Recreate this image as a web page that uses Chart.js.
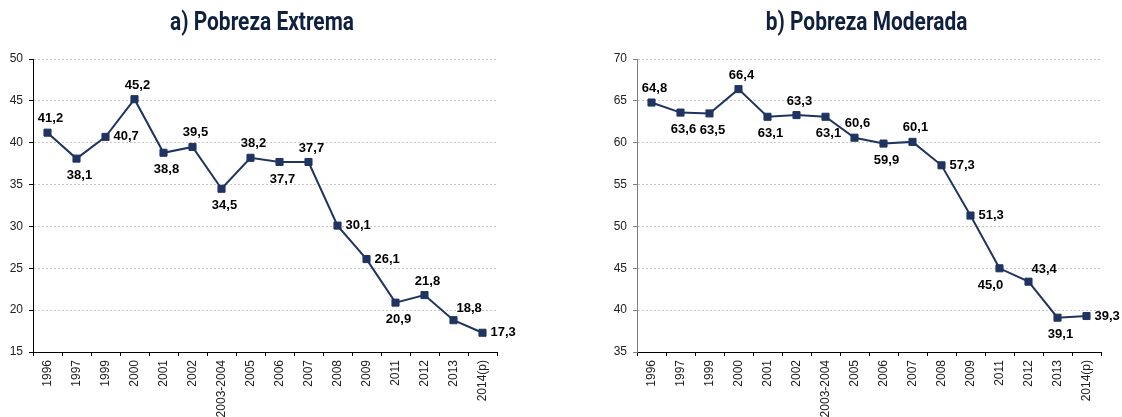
<!DOCTYPE html>
<html>
<head>
<meta charset="utf-8">
<script src="https://cdn.jsdelivr.net/npm/chart.js@4/dist/chart.umd.min.js"></script>
<style>
  html, body { margin: 0; padding: 0; background: #fff; }
  body { width: 1122px; height: 417px; position: relative; overflow: hidden; }
  .wrap { position: absolute; top: 0; width: 561px; height: 417px; }
  #w1 { left: 0; }
  #w2 { left: 561px; }
  .ttl {
    position: absolute; top: 9px; white-space: nowrap;
    font-family: Roboto, 'Liberation Sans', sans-serif; font-weight: bold;
    font-size: 25px; line-height: 25px; color: #10213f;
    transform-origin: 50% 50%;
  }
</style>
</head>
<body>
<div class="wrap" id="w1"><canvas id="c1" width="561" height="417"></canvas></div>
<div class="wrap" id="w2"><canvas id="c2" width="561" height="417"></canvas></div>
<div class="ttl" id="t1"></div>
<div class="ttl" id="t2"></div>
<script>
const categories = ['1996','1997','1999','2000','2001','2002','2003-2004','2005','2006','2007','2008','2009','2011','2012','2013','2014(p)'];
const extrema = [41.2, 38.1, 40.7, 45.2, 38.8, 39.5, 34.5, 38.2, 37.7, 37.7, 30.1, 26.1, 20.9, 21.8, 18.8, 17.3];
const moderada = [64.8, 63.6, 63.5, 66.4, 63.1, 63.3, 63.1, 60.6, 59.9, 60.1, 57.3, 51.3, 45.0, 43.4, 39.1, 39.3];
const titleA = 'a) Pobreza Extrema';
const titleB = 'b) Pobreza Moderada';
const labelPlaceA = ['top','bottom','right','top','bottom','top','bottom','top','bottom','top','right','right','bottom','top','topright','right'];
const labelPlaceB = ['top','bottom','bottom','top','bottom','top','bottom','top','bottom','top','right','right','bottomleft','topright','bottom','right'];

const NAVY = '#1f3461';
const FONT = "'Liberation Sans', Arial, sans-serif";

const pointLabels = {
  id: 'pointLabels',
  afterDatasetsDraw(chart, args, opts) {
    const ctx = chart.ctx;
    const meta = chart.getDatasetMeta(0);
    const data = chart.data.datasets[0].data;
    ctx.save();
    ctx.font = 'bold 13px ' + FONT;
    ctx.fillStyle = '#000';
    ctx.textBaseline = 'middle';
    meta.data.forEach((pt, i) => {
      const txt = data[i].toFixed(1).replace('.', ',');
      const p = opts.place[i];
      let x = pt.x, y = pt.y;
      if (p === 'top') { ctx.textAlign = 'center'; x += 3; y -= 14; }
      else if (p === 'bottom') { ctx.textAlign = 'center'; x += 3; y += 17; }
      else if (p === 'right') { ctx.textAlign = 'left'; x += 8; }
      else if (p === 'topright') { ctx.textAlign = 'left'; x += 3; y -= 12; }
      else if (p === 'bottomleft') { ctx.textAlign = 'center'; x -= 9; y += 17; }
      ctx.fillText(txt, x, y);
    });
    ctx.restore();
  }
};

function makeChart(id, values, place, yMin, yMax, yWidth, padRight, yAxisColor) {
  return new Chart(document.getElementById(id), {
    type: 'line',
    data: {
      labels: categories,
      datasets: [{
        data: values,
        borderColor: NAVY,
        backgroundColor: NAVY,
        borderWidth: 2,
        pointStyle: 'rect',
        pointRadius: 5,
        pointHoverRadius: 5,
        pointBorderWidth: 1,
        pointBorderColor: NAVY,
        pointBackgroundColor: NAVY,
        tension: 0,
        fill: false
      }]
    },
    options: {
      responsive: false,
      animation: false,
      events: [],
      layout: { padding: { left: 0, right: padRight, top: 59, bottom: 0 } },
      plugins: {
        legend: { display: false },
        tooltip: { enabled: false },
        title: { display: false },
        pointLabels: { place: place }
      },
      scales: {
        x: {
          type: 'category',
          offset: true,
          afterFit: (s) => { s.height = 65; },
          border: { display: true, color: '#000', width: 1 },
          grid: { display: true, drawOnChartArea: false, drawTicks: true, offset: true, tickLength: 4, tickColor: '#000', tickWidth: 1 },
          ticks: { autoSkip: false, maxRotation: 90, minRotation: 90, padding: 4, color: '#222', font: { family: FONT, size: 12 } }
        },
        y: {
          min: yMin,
          max: yMax,
          afterFit: (s) => { s.width = yWidth; },
          border: { display: true, color: yAxisColor, width: 1, dash: [2, 2] },
          grid: { color: '#c8c8c8', lineWidth: 1, drawTicks: true, tickLength: 4, tickColor: yAxisColor, tickBorderDash: [], tickWidth: 1 },
          ticks: { stepSize: 5, padding: 6, color: '#222', font: { family: FONT, size: 12 } }
        }
      }
    },
    plugins: [pointLabels]
  });
}

const ch1 = makeChart('c1', extrema, labelPlaceA, 15, 50, 33, 64, '#000');
const ch2 = makeChart('c2', moderada, labelPlaceB, 35, 70, 76, 21, '#7f7f7f');

// titles: real HTML text, centred over each plot area, narrowed like the condensed original
const t1 = document.getElementById('t1');
const t2 = document.getElementById('t2');
t1.textContent = titleA;
t2.textContent = titleB;
const squeeze = 184 / t1.offsetWidth;
function placeTitle(el, chart, offsetLeft) {
  const cx = offsetLeft + (chart.chartArea.left + chart.chartArea.right) / 2 - 3;
  el.style.left = (cx - el.offsetWidth / 2) + 'px';
  el.style.transform = 'scaleX(' + squeeze + ')';
}
placeTitle(t1, ch1, 0);
placeTitle(t2, ch2, 561);
</script>
</body>
</html>
